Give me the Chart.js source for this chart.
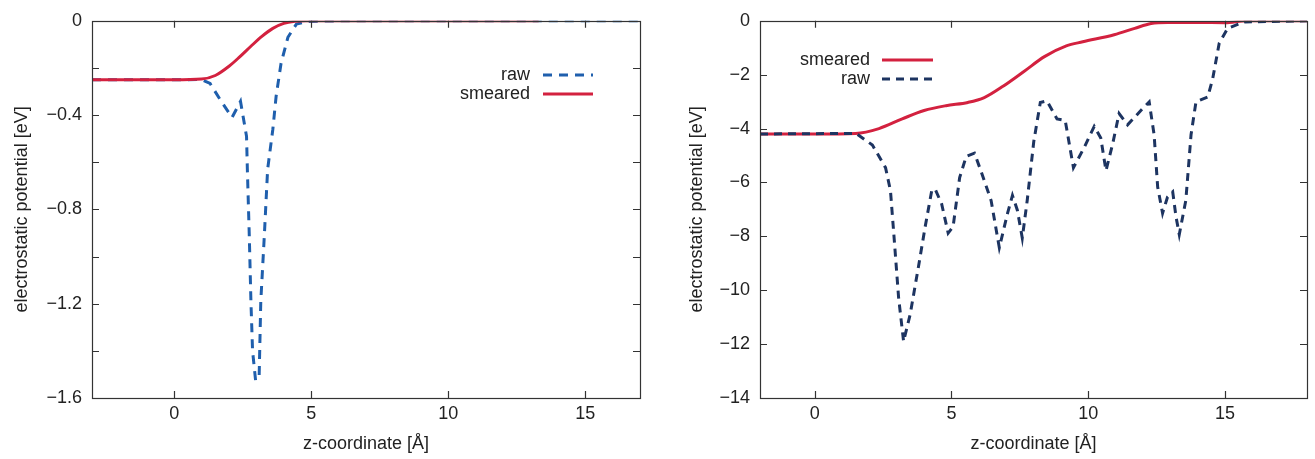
<!DOCTYPE html>
<html>
<head>
<meta charset="utf-8">
<script src="https://cdn.jsdelivr.net/npm/chart.js@4"></script>
<style>
  body { margin: 0; background: #fff; }
  .panel { position: absolute; top: 0; height: 459px; }
</style>
</head>
<body>
<div class="panel" style="left:0;width:657px"><canvas id="left"></canvas></div>
<div class="panel" style="left:657px;width:658px"><canvas id="right"></canvas></div>
<script>
// left panel
const leftRawZ = [-3, 0.5, 1.0, 1.31, 1.68, 2.11, 2.26, 2.42, 2.64, 2.67, 2.74, 2.8, 2.86, 2.97, 3.1, 3.16, 3.29, 3.41, 3.6, 3.72, 3.9, 4.15, 4.46, 4.85, 6, 17];
const leftRawV = [-0.25, -0.25, -0.249, -0.266, -0.335, -0.41, -0.377, -0.342, -0.49, -0.63, -0.91, -1.19, -1.40, -1.525, -1.51, -1.19, -0.91, -0.63, -0.46, -0.32, -0.18, -0.07, -0.014, -0.003, 0, 0];
const leftSmearZ = [-3, 0, 1, 1.5, 2, 2.4, 2.8, 3.2, 3.6, 4, 4.4, 4.8, 13.3];
const leftSmearV = [-0.25, -0.25, -0.247, -0.232, -0.193, -0.152, -0.108, -0.066, -0.032, -0.011, -0.002, 0, 0];
const leftXTicks = [0, 5, 10, 15];
const leftYTicks = [0, -0.2, -0.4, -0.6, -0.8, -1.0, -1.2, -1.4, -1.6];
const leftYLabels = [0, -0.4, -0.8, -1.2, -1.6];

// right panel
const rightRawZ = [-2, 1.51, 2.11, 2.59, 2.77, 2.89, 3.07, 3.25, 3.49, 3.80, 4.04, 4.28, 4.40, 4.64, 4.88, 5.06, 5.30, 5.54, 5.84, 6.08, 6.45, 6.75, 7.05, 7.23, 7.41, 7.59, 7.77, 8.01, 8.25, 8.49, 8.86, 9.16, 9.46, 9.85, 10.22, 10.46, 10.65, 10.89, 11.13, 11.44, 11.99, 12.23, 12.41, 12.54, 12.72, 12.9, 13.09, 13.21, 13.33, 13.57, 13.76, 13.94, 14.37, 14.55, 14.79, 15.1, 15.71, 18];
const rightRawV = [-4.2, -4.18, -4.61, -5.45, -6.30, -7.88, -10.3, -11.9, -10.9, -9.09, -7.64, -6.30, -6.24, -6.79, -7.88, -7.64, -5.82, -5.03, -4.91, -5.58, -6.67, -8.42, -7.15, -6.48, -7.03, -8.06, -6.67, -4.48, -3.03, -2.97, -3.64, -3.70, -5.45, -4.71, -3.92, -4.35, -5.56, -4.59, -3.44, -3.86, -3.26, -3.01, -4.23, -6.17, -7.14, -6.54, -6.35, -7.27, -7.93, -6.66, -4.23, -3.01, -2.83, -2.16, -0.83, -0.28, -0.04, 0];
const rightSmearZ = [-2, 0, 1.5, 2.35, 3.2, 4.0, 4.8, 5.6, 6.2, 6.9, 7.65, 8.4, 9.2, 9.8, 10.95, 11.7, 12.3, 12.9, 14, 15, 15.8, 18];
const rightSmearV = [-4.2, -4.2, -4.18, -4.0, -3.64, -3.33, -3.15, -3.03, -2.85, -2.42, -1.88, -1.33, -0.93, -0.78, -0.52, -0.28, -0.1, -0.06, -0.06, -0.07, 0, 0];
const rightXTicks = [0, 5, 10, 15];
const rightYTicks = [0, -2, -4, -6, -8, -10, -12, -14];

const FONT = 'Liberation Sans, Arial, Helvetica, sans-serif';
const INK = '#222';
const SIZE = 18;

function pts(xs, ys) {
  return xs.map((x, i) => ({ x: x, y: ys[i] }));
}

function minus(v) {
  return String(v).replace('-', '\u2212');
}

// box, inward ticks on all four sides, gnuplot style key
const gnuplotFrame = {
  id: 'gnuplotFrame',
  afterDatasetsDraw(chart, args, opts) {
    const ctx = chart.ctx;
    const a = chart.chartArea;
    const len = 7;
    ctx.save();
    ctx.strokeStyle = '#333';
    ctx.lineWidth = 1.2;
    ctx.beginPath();
    chart.scales.x.ticks.forEach(t => {
      const px = Math.round(chart.scales.x.getPixelForValue(t.value)) + 0.5;
      ctx.moveTo(px, a.bottom); ctx.lineTo(px, a.bottom - len);
      ctx.moveTo(px, a.top); ctx.lineTo(px, a.top + len);
    });
    chart.scales.y.ticks.forEach(t => {
      const py = Math.round(chart.scales.y.getPixelForValue(t.value)) + 0.5;
      ctx.moveTo(a.left, py); ctx.lineTo(a.left + len, py);
      ctx.moveTo(a.right, py); ctx.lineTo(a.right - len, py);
    });
    ctx.stroke();
    ctx.strokeRect(Math.round(a.left) + 0.5, Math.round(a.top) + 0.5, Math.round(a.right - a.left), Math.round(a.bottom - a.top));

    // key
    ctx.font = SIZE + 'px ' + FONT;
    ctx.textAlign = 'right';
    ctx.textBaseline = 'middle';
    opts.order.forEach((di, row) => {
      const ds = chart.data.datasets[di];
      const y = opts.rows[row];
      ctx.fillStyle = INK;
      ctx.fillText(ds.label, opts.textRight, y);
      ctx.strokeStyle = ds.borderColor;
      ctx.lineWidth = ds.borderWidth;
      ctx.setLineDash(ds.borderDash || []);
      ctx.beginPath();
      ctx.moveTo(opts.lineFrom, y);
      ctx.lineTo(opts.lineTo, y);
      ctx.stroke();
    });
    ctx.restore();
  }
};

function makeChart(id, cfg) {
  return new Chart(id, {
    type: 'scatter',
    data: { datasets: cfg.datasets },
    options: {
      responsive: true,
      maintainAspectRatio: false,
      animation: false,
      layout: { padding: { top: 17, right: cfg.padRight, left: 0, bottom: 0 } },
      elements: { point: { radius: 0 } },
      plugins: {
        legend: { display: false },
        tooltip: { enabled: false },
        gnuplotFrame: cfg.key
      },
      scales: {
        x: {
          type: 'linear',
          min: cfg.xMin,
          max: cfg.xMax,
          afterBuildTicks: s => { s.ticks = cfg.xTicks.map(v => ({ value: v })); },
          afterFit: s => { s.height = 61; },
          grid: { display: false, drawTicks: false },
          border: { display: false },
          ticks: { color: INK, font: { family: FONT, size: SIZE }, padding: 5, maxRotation: 0 },
          title: { display: true, text: 'z-coordinate [Å]', color: INK, font: { family: FONT, size: SIZE }, padding: { top: 0, bottom: 4 } }
        },
        y: {
          type: 'linear',
          min: cfg.yMin,
          max: 0,
          afterBuildTicks: s => { s.ticks = cfg.yTicks.map(v => ({ value: v })); },
          afterFit: s => { s.width = cfg.yWidth; },
          grid: { display: false, drawTicks: false },
          border: { display: false },
          ticks: {
            color: INK,
            font: { family: FONT, size: SIZE },
            padding: 10,
            callback: v => cfg.yLabels.includes(v) ? minus(v) : ''
          },
          title: { display: true, text: 'electrostatic potential [eV]', color: INK, font: { family: FONT, size: SIZE }, padding: { top: cfg.titlePad, bottom: 0 } }
        }
      }
    },
    plugins: [gnuplotFrame]
  });
}

makeChart('left', {
  xMin: -3, xMax: 17, yMin: -1.6,
  xTicks: leftXTicks, yTicks: leftYTicks, yLabels: leftYLabels,
  yWidth: 92, padRight: 17, titlePad: 11,
  key: { textRight: 530, lineFrom: 543, lineTo: 593, rows: [75, 94], order: [1, 0] },
  datasets: [
    {
      label: 'smeared',
      data: pts(leftSmearZ, leftSmearV),
      showLine: true,
      cubicInterpolationMode: 'monotone',
      borderColor: '#d3213f',
      borderWidth: 3
    },
    {
      label: 'raw',
      data: pts(leftRawZ, leftRawV),
      showLine: true,
      lineTension: 0,
      borderColor: '#1f5fad',
      borderWidth: 3,
      borderDash: [9, 7]
    }
  ]
});

makeChart('right', {
  xMin: -2, xMax: 18, yMin: -14,
  xTicks: rightXTicks, yTicks: rightYTicks, yLabels: rightYTicks,
  yWidth: 103, padRight: 8, titlePad: 29,
  key: { textRight: 213, lineFrom: 225, lineTo: 276, rows: [60, 79], order: [1, 0] },
  datasets: [
    {
      label: 'raw',
      data: pts(rightRawZ, rightRawV),
      showLine: true,
      lineTension: 0,
      borderColor: '#1d3461',
      borderWidth: 3,
      borderDash: [8, 6]
    },
    {
      label: 'smeared',
      data: pts(rightSmearZ, rightSmearV),
      showLine: true,
      cubicInterpolationMode: 'monotone',
      borderColor: '#d3213f',
      borderWidth: 3
    }
  ]
});
</script>
</body>
</html>
